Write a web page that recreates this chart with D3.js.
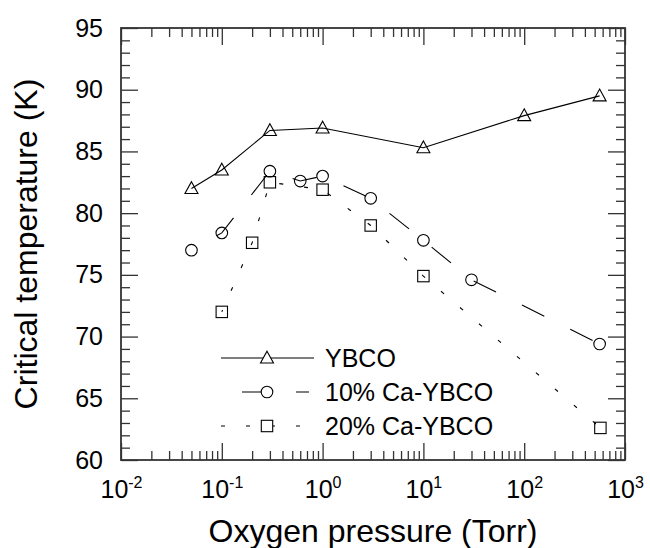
<!DOCTYPE html>
<html>
<head>
<meta charset="utf-8">
<script src="https://cdn.jsdelivr.net/npm/d3@7"></script>
<style>
    body { margin: 0; background: #fff; }
    svg { font-family: "Liberation Sans", Arial, sans-serif; }
</style>
</head>
<body>
<svg id="chart" width="650" height="548"></svg>
<script>
// pressure in Torr, Tc in K
const ybcoP = [0.05, 0.1, 0.3, 1, 10, 100, 560];
const ybcoTc = [82.0, 83.5, 86.7, 86.9, 85.3, 87.9, 89.5];

const ca10P = [0.05, 0.1, 0.3, 0.6, 1, 3, 10, 30, 560];
const ca10Tc = [77.0, 78.4, 83.4, 82.6, 83.0, 81.2, 77.8, 74.6, 69.4];

const ca20P = [0.1, 0.2, 0.3, 1, 3, 10, 570];
const ca20Tc = [72.0, 77.6, 82.5, 81.9, 79.0, 74.9, 62.6];

const seriesNames = ["YBCO", "10% Ca-YBCO", "20% Ca-YBCO"];
const xDecades = [-2, -1, 0, 1, 2, 3];
const yTicks = [60, 65, 70, 75, 80, 85, 90, 95];

const margin = { top: 28, right: 25, bottom: 88, left: 121 };
const width = 650 - margin.left - margin.right;
const height = 548 - margin.top - margin.bottom;

const svg = d3.select("#chart");
const g = svg.append("g").attr("transform", `translate(${margin.left}, ${margin.top})`);

const x = d3.scaleLog().domain([0.01, 1000]).range([0, width]);
const y = d3.scaleLinear().domain([60, 95]).range([height, 0]);

const majorX = xDecades.map(e => Math.pow(10, e));
const minorX = [];
for (let e = -2; e < 3; e++) {
    for (let m = 2; m <= 9; m++) minorX.push(m * Math.pow(10, e));
}
const minorY = d3.range(60, 96).filter(v => v % 5 !== 0);

const axisColor = "#333";

function styleAxis(sel) {
    sel.select(".domain").remove();
    sel.selectAll("line").attr("stroke", axisColor).attr("stroke-width", 1.3);
}

// ticks, inward on all four sides
g.append("g").attr("transform", `translate(0, ${height})`)
    .call(d3.axisBottom(x).tickValues(minorX).tickSize(-9).tickFormat(""))
    .call(styleAxis);
const xAxisGroup = g.append("g").attr("transform", `translate(0, ${height})`)
    .call(d3.axisBottom(x).tickValues(majorX).tickSize(-17).tickPadding(33).tickFormat(""))
    .call(styleAxis);
g.append("g")
    .call(d3.axisTop(x).tickValues(minorX).tickSize(-9).tickFormat(""))
    .call(styleAxis);
g.append("g")
    .call(d3.axisTop(x).tickValues(majorX).tickSize(-17).tickFormat(""))
    .call(styleAxis);

g.append("g")
    .call(d3.axisLeft(y).tickValues(minorY).tickSize(-9).tickFormat(""))
    .call(styleAxis);
const yAxisGroup = g.append("g")
    .call(d3.axisLeft(y).tickValues(yTicks).tickSize(-17).tickPadding(18).tickFormat(d3.format("d")))
    .call(styleAxis);
g.append("g").attr("transform", `translate(${width}, 0)`)
    .call(d3.axisRight(y).tickValues(minorY).tickSize(-9).tickFormat(""))
    .call(styleAxis);
g.append("g").attr("transform", `translate(${width}, 0)`)
    .call(d3.axisRight(y).tickValues(yTicks).tickSize(-17).tickFormat(""))
    .call(styleAxis);

yAxisGroup.selectAll("text")
    .attr("font-size", 25)
    .attr("font-family", null)
    .attr("fill", "#000");

// x labels as 10^n
xAxisGroup.selectAll(".tick").each(function (d) {
    const t = d3.select(this).append("text")
        .attr("y", 38)
        .attr("text-anchor", "middle")
        .attr("fill", "#000")
        .attr("font-size", 25);
    t.append("tspan").text("10");
    t.append("tspan")
        .attr("font-size", 16)
        .attr("dy", -10)
        .text(Math.round(Math.log10(d)));
});

// frame
g.append("rect")
    .attr("width", width)
    .attr("height", height)
    .attr("fill", "none")
    .attr("stroke", axisColor)
    .attr("stroke-width", 1.8);

// series
const series = [
    { name: seriesNames[0], p: ybcoP, tc: ybcoTc, dash: null, offset: 0, marker: "triangle" },
    { name: seriesNames[1], p: ca10P, tc: ca10Tc, dash: "25,29", offset: 25, marker: "circle" },
    { name: seriesNames[2], p: ca20P, tc: ca20Tc, dash: "4,21", offset: 2, marker: "square" }
];

const line = d3.line().x(d => x(d[0])).y(d => y(d[1]));

function drawMarker(sel, type, cx, cy) {
    if (type === "triangle") {
        sel.append("path")
            .attr("d", `M${cx},${cy - 6.8}L${cx + 6.5},${cy + 5}L${cx - 6.5},${cy + 5}Z`);
    } else if (type === "circle") {
        sel.append("circle").attr("cx", cx).attr("cy", cy).attr("r", 5.8);
    } else {
        sel.append("rect").attr("x", cx - 5.7).attr("y", cy - 5.7).attr("width", 11.4).attr("height", 11.4);
    }
}

series.forEach(s => {
    const pts = s.p.map((p, i) => [p, s.tc[i]]);
    g.append("path")
        .datum(pts)
        .attr("d", line)
        .attr("fill", "none")
        .attr("stroke", "#000")
        .attr("stroke-width", 1.1)
        .attr("stroke-dasharray", s.dash)
        .attr("stroke-dashoffset", s.offset);

    const mg = g.append("g")
        .attr("fill", "none")
        .attr("stroke", "#000")
        .attr("stroke-width", 1.1);
    pts.forEach(d => drawMarker(mg, s.marker, x(d[0]), y(d[1])));
});

// legend
const legendRows = [
    { x1: 221, x2: 314, y: 358 },
    { x1: 242, x2: 309, y: 392 },
    { x1: 221, x2: 312, y: 426 }
];
const legend = svg.append("g");
series.forEach((s, i) => {
    const r = legendRows[i];
    legend.append("line")
        .attr("x1", r.x1).attr("x2", r.x2)
        .attr("y1", r.y).attr("y2", r.y)
        .attr("stroke", "#000")
        .attr("stroke-width", 1.1)
        .attr("stroke-dasharray", s.dash);
    const mg = legend.append("g").attr("fill", "#fff").attr("stroke", "#000").attr("stroke-width", 1.1);
    drawMarker(mg, s.marker, 267, r.y);
    legend.append("text")
        .attr("x", 325)
        .attr("y", r.y)
        .attr("dy", "0.35em")
        .attr("font-size", 25)
        .text(s.name);
});

// axis titles
svg.append("text")
    .attr("x", margin.left + width / 2)
    .attr("y", 542)
    .attr("text-anchor", "middle")
    .attr("font-size", 32)
    .text("Oxygen pressure (Torr)");

svg.append("text")
    .attr("transform", `translate(37, ${margin.top + height / 2}) rotate(-90)`)
    .attr("text-anchor", "middle")
    .attr("font-size", 32)
    .text("Critical temperature (K)");
</script>
</body>
</html>
